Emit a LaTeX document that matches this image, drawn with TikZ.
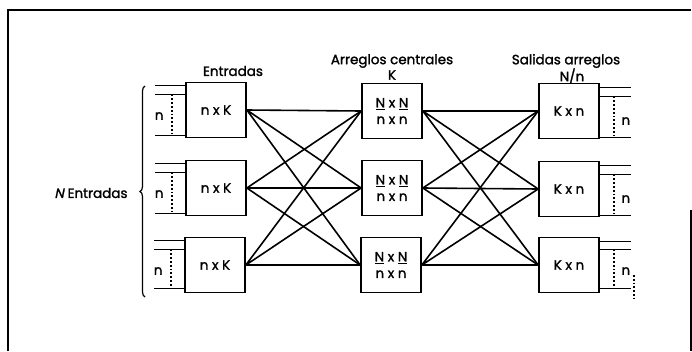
\documentclass[tikz,border=0pt]{standalone}
\usepackage{fontspec}
\setmainfont{Poppins}[FakeBold=1.5, AutoFakeSlant=0.2]
\usetikzlibrary{decorations.pathreplacing}

\begin{document}
\begin{tikzpicture}[
    x=1pt, y=-1pt,
    box/.style={rectangle, draw, line width=1.7pt, minimum width=60pt, minimum height=55pt, inner sep=0pt, align=center, font=\fontsize{13.5}{13.5}\selectfont},
    title/.style={font=\fontsize{13.5}{13.5}\selectfont, inner sep=0pt},
    wire/.style={line width=1.6pt},
    dots/.style={line width=1.8pt, dotted},
    frame/.style={line width=2.4pt}
]
\useasboundingbox (0,0) rectangle (692,351);

% Frame
\draw[frame] (8,351) -- (8,10) -- (691,10);
\draw[frame] (691,210) -- (691,351);

% Titles
\node[title] (tin) at (233, 71) {Entradas};
\node[title] (tmid) at (392, 61) {Arreglos centrales};
\node[title] (tk) at (392, 75) {K};
\node[title] (tout) at (566, 61) {Salidas arreglos};
\node[title] (tnn) at (572, 76) {N/n};

% ============ Entradas ============
\node[box] (in1) at (216, 110) {n x K};
\node[box] (in2) at (216, 188) {n x K};
\node[box] (in3) at (215, 265) {n x K};

% ============ Arreglos centrales ============
\node[box] (mid1) at (392, 111) {\underline{N} x \underline{N}\\[3pt] n x n};
\node[box] (mid2) at (392, 188) {\underline{N} x \underline{N}\\[3pt] n x n};
\node[box] (mid3) at (391, 265) {\underline{N} x \underline{N}\\[3pt] n x n};

% ============ Salidas ============
\node[box] (out1) at (569, 111) {K x n};
\node[box] (out2) at (569, 189) {K x n};
\node[box] (out3) at (569, 265) {K x n};

% Connections
\draw[wire] (in1.east) -- (mid1.west) (in1.east) -- (mid2.west) (in1.east) -- (mid3.west);
\draw[wire] (in2.east) -- (mid1.west) (in2.east) -- (mid2.west) (in2.east) -- (mid3.west);
\draw[wire] (in3.east) -- (mid1.west) (in3.east) -- (mid2.west) (in3.east) -- (mid3.west);
\draw[wire] (mid1.east) -- (out1.west) (mid1.east) -- (out2.west) (mid1.east) -- (out3.west);
\draw[wire] (mid2.east) -- (out1.west) (mid2.east) -- (out2.west) (mid2.east) -- (out3.west);
\draw[wire] (mid3.east) -- (out1.west) (mid3.east) -- (out2.west) (mid3.east) -- (out3.west);

% Input lines
\draw[wire] ([yshift=-4pt]in1.north west) -- ++(-30,0);
\draw[wire] ([yshift=-13pt]in1.north west) -- ++(-30,0);
\draw[wire] ([yshift=3pt]in1.south west) -- ++(-30,0);
\draw[dots] ([xshift=-13pt,yshift=-13pt]in1.north west) -- ([xshift=-13pt,yshift=3pt]in1.south west);
\node[title] (n1) at ([xshift=-26pt,yshift=-6pt]in1.west) {n};

\draw[wire] ([yshift=-4pt]in2.north west) -- ++(-30,0);
\draw[wire] ([yshift=-13pt]in2.north west) -- ++(-30,0);
\draw[wire] ([yshift=3pt]in2.south west) -- ++(-30,0);
\draw[dots] ([xshift=-13pt,yshift=-13pt]in2.north west) -- ([xshift=-13pt,yshift=3pt]in2.south west);
\node[title] (n2) at ([xshift=-26pt,yshift=-6pt]in2.west) {n};

\draw[wire] ([yshift=-4pt]in3.north west) -- ++(-30,0);
\draw[wire] ([yshift=-13pt]in3.north west) -- ++(-30,0);
\draw[wire] ([yshift=5pt]in3.south west) -- ++(-30,0);
\draw[dots] ([xshift=-13pt,yshift=-13pt]in3.north west) -- ([xshift=-13pt,yshift=5pt]in3.south west);
\node[title] (n3) at ([xshift=-26pt,yshift=-6pt]in3.west) {n};

% Output lines
\draw[wire] ([yshift=-5pt]out1.north east) -- ++(31,0);
\draw[wire] ([yshift=-14pt]out1.north east) -- ++(31,0);
\draw[wire] ([yshift=2pt]out1.south east) -- ++(31,0);
\draw[dots] ([xshift=14pt,yshift=-14pt]out1.north east) -- ([xshift=14pt,yshift=2pt]out1.south east);
\node[title] (n4) at ([xshift=26pt,yshift=-10pt]out1.east) {n};

\draw[wire] ([yshift=-5pt]out2.north east) -- ++(31,0);
\draw[wire] ([yshift=-14pt]out2.north east) -- ++(31,0);
\draw[wire] ([yshift=2pt]out2.south east) -- ++(31,0);
\draw[dots] ([xshift=14pt,yshift=-14pt]out2.north east) -- ([xshift=14pt,yshift=2pt]out2.south east);
\node[title] (n5) at ([xshift=26pt,yshift=-10pt]out2.east) {n};

\draw[wire] ([yshift=-5pt]out3.north east) -- ++(31,0);
\draw[wire] ([yshift=-13pt]out3.north east) -- ++(31,0);
\draw[wire] ([yshift=5pt]out3.south east) -- ++(31,0);
\draw[dots] ([xshift=14pt,yshift=-13pt]out3.north east) -- ([xshift=14pt,yshift=5pt]out3.south east);
\draw[dots] ([xshift=34pt,yshift=-10pt]out3.east) -- ([xshift=34pt,yshift=-33pt]out3.east);
\node[title] (n6) at ([xshift=26pt,yshift=-6pt]out3.east) {n};

% N Entradas brace
\draw[line width=1.2pt, decorate, decoration={brace, amplitude=5pt}] (145,297) -- (145,86);
\node[title] (nent) at (91,193) {\textit{N} Entradas};

\end{tikzpicture}
\end{document}
